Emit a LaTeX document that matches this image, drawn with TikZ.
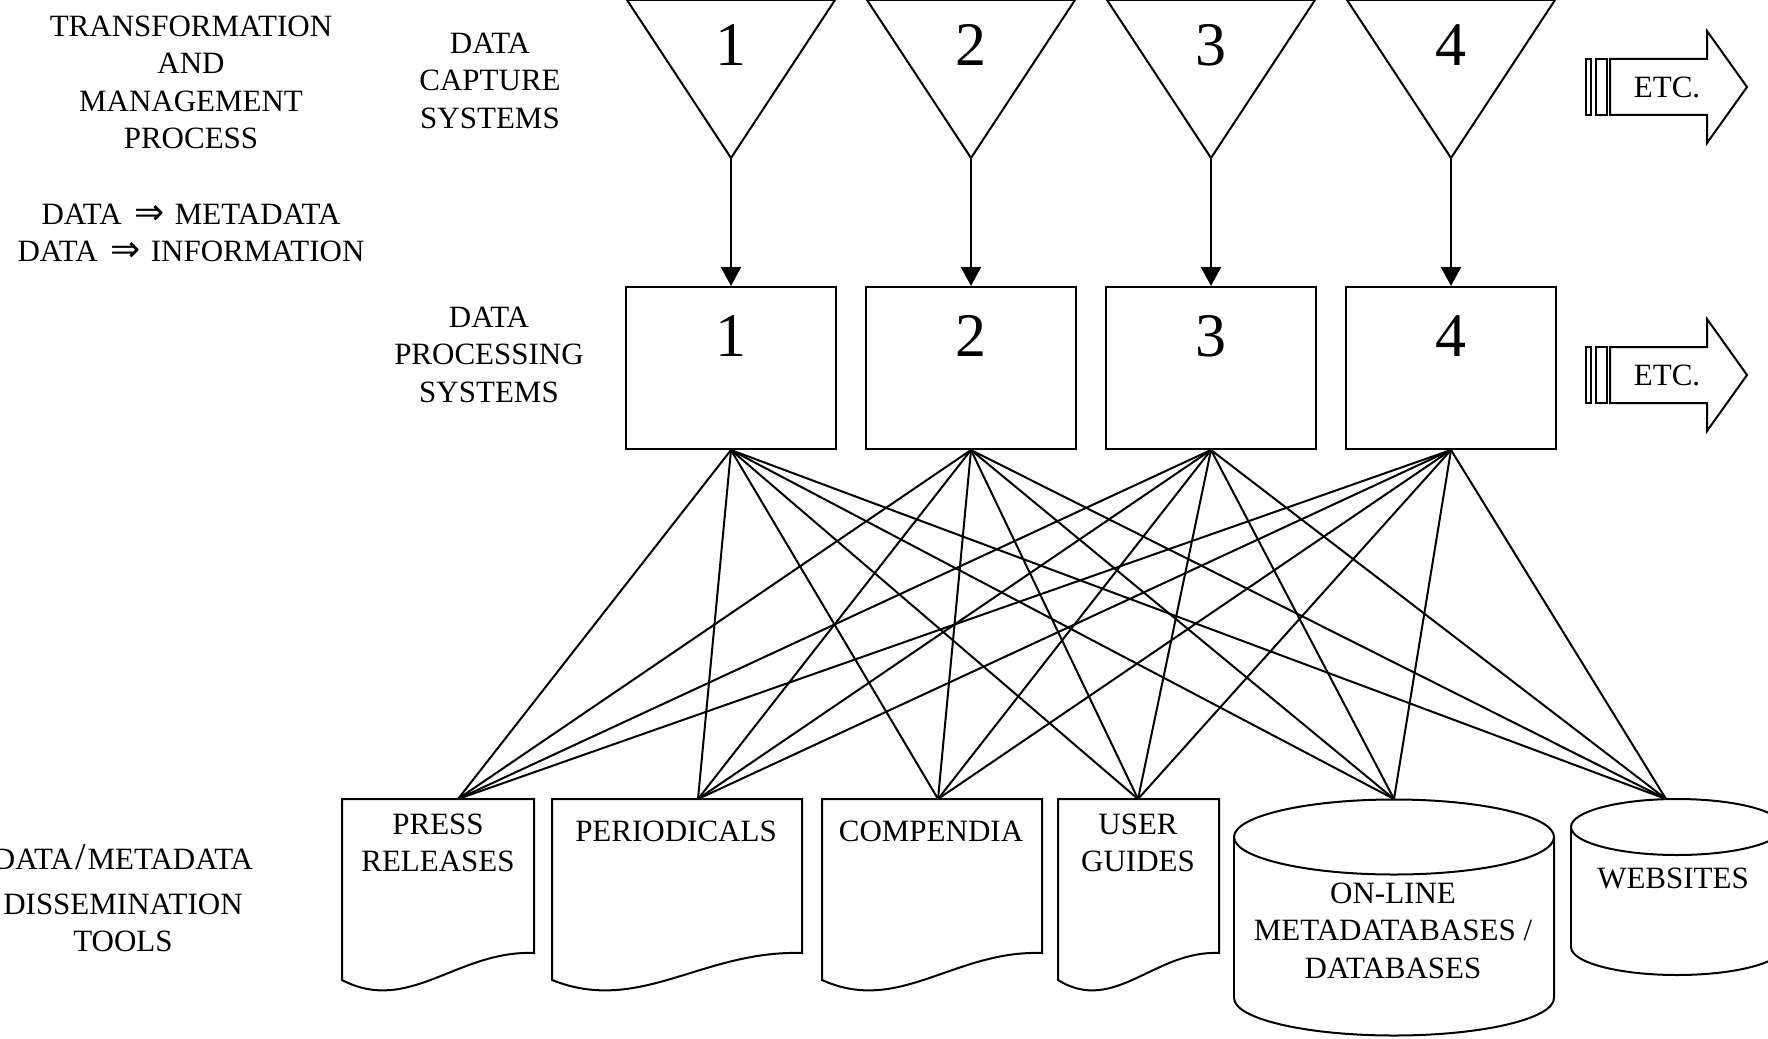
\documentclass[tikz,border=0pt]{standalone}
\usepackage{fontspec}
\setmainfont{Liberation Serif}
\newfontfamily\mysymfont{DejaVu Sans}
\usetikzlibrary{arrows.meta}
\tikzset{
  ln/.style={line width=2pt, black},
  lbl/.style={font=\fontsize{31}{37.5}\selectfont, inner sep=0pt, align=center},
  bignum/.style={font=\fontsize{62}{62}\selectfont, inner sep=0pt},
  procbox/.style={draw, line width=2pt, minimum width=210pt, minimum height=162pt, inner sep=0pt},
  downarrow/.style={ln, -{Triangle[width=20pt,length=19pt]}},
}
\newcommand\mydocshape[2]{%
  \draw[ln] (#1,799) -- (#2,799) -- (#2,953)
    .. controls ({#1+0.6*(#2-#1)},950) and ({#1+0.35*(#2-#1)},1015) .. (#1,980) -- cycle;}
\newcommand\mycyl[5]{% cx, rx, ytop, ybot, ry
  \draw[ln] ({#1-#2},#4) arc[start angle=180, end angle=360, x radius=#2pt, y radius=#5pt] -- ({#1+#2},#3);
  \draw[ln] ({#1-#2},#3) -- ({#1-#2},#4);
  \draw[ln] (#1,#3) ellipse[x radius=#2pt, y radius=#5pt];}
\newcommand\myetc[1]{% centre y
  \draw[ln] (1586,{#1-28}) rectangle (1591,{#1+28});
  \draw[ln] (1596,{#1-28}) rectangle (1607,{#1+28});
  \draw[ln] (1610,{#1-28}) -- (1707,{#1-28}) -- (1707,{#1-56}) -- (1747,#1)
    -- (1707,{#1+56}) -- (1707,{#1+28}) -- (1610,{#1+28}) -- cycle;}
\newcommand\myimpl{\kern13pt{\mysymfont\fontsize{36}{37.5}\selectfont ⇒}\kern10pt}
\begin{document}
\begin{tikzpicture}[x=1pt,y=-1pt]
\useasboundingbox (0,0) rectangle (1768,1038);

% left labels
\node[lbl, anchor=north] (tmp) at (191,15.7) {TRANSFORMATION\\AND\\MANAGEMENT\\PROCESS};
\node[lbl, anchor=north] (dmi) at (191,203.7) {DATA\myimpl METADATA\\DATA\myimpl INFORMATION};
\node[lbl, anchor=north] (dcs) at (490,32.7) {DATA\\CAPTURE\\SYSTEMS};
\node[lbl, anchor=north] (dps) at (489,306.7) {DATA\\PROCESSING\\SYSTEMS};
\node[lbl, anchor=north] (ddt) at (123,844.7) {DATA\kern2pt{\fontsize{38}{37.5}\selectfont/}\kern2pt METADATA\\[7pt]DISSEMINATION\\TOOLS};

% capture triangles
\foreach \i/\c in {1/731,2/971,3/1211,4/1451}{
  \draw[ln] ({\c-104},0) -- ({\c+104},0) -- (\c,158) -- cycle;
  \coordinate (t\i) at (\c,158);
  \node[bignum] (n\i) at (\c,45) {\i};
  \node[procbox] (b\i) at (\c,368) {};
  \node[bignum] (m\i) at (\c,336) {\i};
  \draw[downarrow] (t\i) -- (b\i.north);
}

% ETC arrows
\myetc{87}
\node[lbl] (etc1) at (1667,87) {ETC.};
\myetc{375}
\node[lbl] (etc2) at (1667,375) {ETC.};

% dissemination tools
\mydocshape{342}{534}
\node[lbl, anchor=north] (d1) at (438,813.7) {PRESS\\RELEASES};
\mydocshape{552}{802}
\node[lbl] (d2) at (676,831) {PERIODICALS};
\mydocshape{822}{1042}
\node[lbl] (d3) at (931,831) {COMPENDIA};
\mydocshape{1058}{1219}
\node[lbl, anchor=north] (d4) at (1138,813.7) {USER\\GUIDES};
\mycyl{1394}{160}{837}{998}{37.5}
\node[lbl, anchor=north] (d5) at (1393,882.7) {ON-LINE\\METADATABASES /\\DATABASES};
\mycyl{1677}{106}{827}{947}{28}
\node[lbl] (d6) at (1673,878) {WEBSITES};

\coordinate (p1) at (458,799);
\coordinate (p2) at (698,799);
\coordinate (p3) at (938,799);
\coordinate (p4) at (1138,799);
\coordinate (p5) at (1394,799);
\coordinate (p6) at (1666,799);

\foreach \b in {b1,b2,b3,b4}{
  \foreach \p in {p1,p2,p3,p4,p5,p6}{
    \draw[ln] (\b.south) -- (\p);
  }
}
\end{tikzpicture}
\end{document}
